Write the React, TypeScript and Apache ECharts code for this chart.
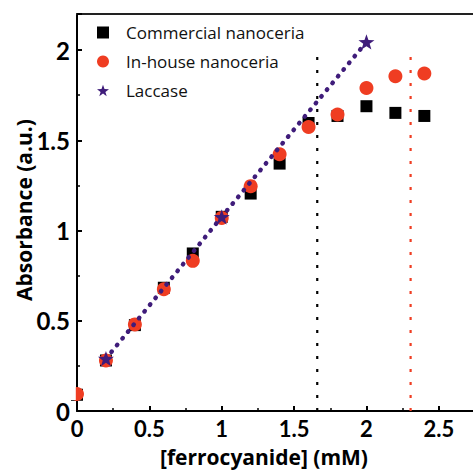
import React, { useEffect, useRef } from "react";
import * as echarts from "echarts";

const concentrations = [0, 0.2, 0.4, 0.6, 0.8, 1.0, 1.2, 1.4, 1.6, 1.8, 2.0, 2.2, 2.4];
const commercial = [0.09, 0.28, 0.476, 0.683, 0.873, 1.076, 1.205, 1.371, 1.596, 1.635, 1.689, 1.652, 1.635];
const inHouse = [0.094, 0.28, 0.48, 0.675, 0.832, 1.07, 1.246, 1.423, 1.574, 1.643, 1.79, 1.855, 1.87];
const laccaseX = [0.2, 1.0, 2.0];
const laccaseY = [0.29, 1.076, 2.045];
const commercialLimit = [[1.66, 0], [1.66, 2.0]];
const inHouseLimit = [[2.305, 0], [2.305, 2.0]];
const xTicks = [0, 0.5, 1, 1.5, 2, 2.5];
const yTicks = [0, 0.5, 1, 1.5, 2];
const names = ["Commercial nanoceria", "In-house nanoceria", "Laccase"];

const STAR =
  "path://M50,0 L61.8,33.8 L97.6,34.5 L69,56.2 L79.4,90.5 L50,70 L20.6,90.5 L31,56.2 L2.4,34.5 L38.2,33.8 Z";

const BLACK = "#000000";
const RED = "#ef3d22";
const PURPLE = "#3f1c7a";
const TICKFONT = "Lato";
const FONT = "Open Sans";

export default function App() {
  const ref = useRef<HTMLDivElement>(null);
  useEffect(() => {
    if (!ref.current) return;
    const chart = echarts.init(ref.current, null, { renderer: "svg" });
    const fmt = (list: number[]) => (v: number) =>
      list.some((t) => Math.abs(t - v) < 1e-6) ? String(v) : "";
    chart.setOption({
      animation: false,
      backgroundColor: "#ffffff",
      textStyle: { fontFamily: FONT },
      grid: { left: 77, top: 14, right: 5, bottom: 61 },
      legend: {
        orient: "vertical",
        left: 92,
        top: 19,
        itemWidth: 12,
        itemHeight: 12,
        itemGap: 12,
        textStyle: { fontFamily: FONT, fontSize: 17, color: "#111", padding: [0, 0, 0, 12] },
        data: [
          { name: names[0], icon: "rect", itemStyle: { color: BLACK } },
          { name: names[1], icon: "circle", itemStyle: { color: RED } },
          { name: names[2], icon: STAR, itemStyle: { color: PURPLE } },
        ],
      },
      xAxis: [
        {
          type: "value",
          min: 0,
          max: 2.75,
          interval: 0.5,
          axisLine: { show: true, lineStyle: { color: BLACK, width: 2 } },
          axisTick: { show: true, inside: true, length: 5, lineStyle: { color: BLACK, width: 2 } },
          minorTick: { show: true, splitNumber: 2, length: 3, lineStyle: { color: BLACK, width: 1.5 } },
          splitLine: { show: false },
          axisLabel: {
            margin: 6,
            fontFamily: TICKFONT,
            fontWeight: "bold",
            fontSize: 22,
            lineHeight: 22,
            color: BLACK,
            formatter: fmt(xTicks),
          },
        },
        {
          type: "value",
          position: "top",
          min: 0,
          max: 2.75,
          axisLine: { show: true, onZero: false, lineStyle: { color: "#222", width: 2 } },
          axisTick: { show: false },
          axisLabel: { show: false },
          splitLine: { show: false },
        },
      ],
      yAxis: {
        type: "value",
        min: 0,
        max: 2.2,
        interval: 0.5,
        axisLine: { show: true, lineStyle: { color: BLACK, width: 2 } },
        axisTick: { show: true, inside: true, length: 5, lineStyle: { color: BLACK, width: 2 } },
        minorTick: { show: true, splitNumber: 2, length: 3, lineStyle: { color: BLACK, width: 1.5 } },
        splitLine: { show: false },
        axisLabel: {
          margin: 7,
          fontFamily: TICKFONT,
          fontWeight: "bold",
          fontSize: 24,
          color: BLACK,
          formatter: fmt(yTicks),
        },
      },
      graphic: [
        {
          type: "rect",
          z: 100,
          shape: { x: 58, y: 384, width: 17.8, height: 16 },
          style: { fill: "#ffffff" },
        },
        {
          type: "text",
          x: 24,
          y: 210,
          rotation: Math.PI / 2,
          style: {
            text: "Absorbance (a.u.)",
            fontFamily: FONT,
            fontWeight: "bold",
            fontSize: 21,
            fill: BLACK,
            textAlign: "center",
            textVerticalAlign: "middle",
          },
        },
        {
          type: "text",
          x: 264,
          y: 457,
          style: {
            text: "[ferrocyanide] (mM)",
            fontFamily: FONT,
            fontWeight: "bold",
            fontSize: 21,
            lineHeight: 24,
            fill: BLACK,
            textAlign: "center",
            textVerticalAlign: "middle",
          },
        },
      ],
      series: [
        {
          type: "line",
          data: commercialLimit,
          symbol: "none",
          silent: true,
          lineStyle: { color: BLACK, width: 2.2, type: [3, 10] },
          z: 1,
        },
        {
          type: "line",
          data: inHouseLimit,
          symbol: "none",
          silent: true,
          lineStyle: { color: RED, width: 2.2, type: [3, 10] },
          z: 1,
        },
        {
          name: names[0],
          type: "scatter",
          symbol: "rect",
          symbolSize: 12,
          itemStyle: { color: BLACK, opacity: 1 },
          data: concentrations.map((x, i) => [x, commercial[i]]),
          z: 2,
        },
        {
          name: names[1],
          type: "scatter",
          symbol: "circle",
          symbolSize: 14,
          itemStyle: { color: RED, opacity: 1 },
          data: concentrations.map((x, i) => [x, inHouse[i]]),
          z: 3,
        },
        {
          name: names[2],
          type: "line",
          symbol: STAR,
          symbolSize: 16,
          symbolKeepAspect: true,
          showSymbol: true,
          itemStyle: { color: PURPLE, borderWidth: 0, opacity: 1 },
          lineStyle: { color: PURPLE, width: 4.5, type: [0.5, 8.2], cap: "round" },
          data: laccaseX.map((x, i) => [x, laccaseY[i]]),
          z: 4,
        },
      ],
    });
    return () => chart.dispose();
  }, []);
  return (
    <div
      ref={ref}
      style={{ position: "fixed", left: 0, top: 0, width: 480, height: 472 }}
    />
  );
}
